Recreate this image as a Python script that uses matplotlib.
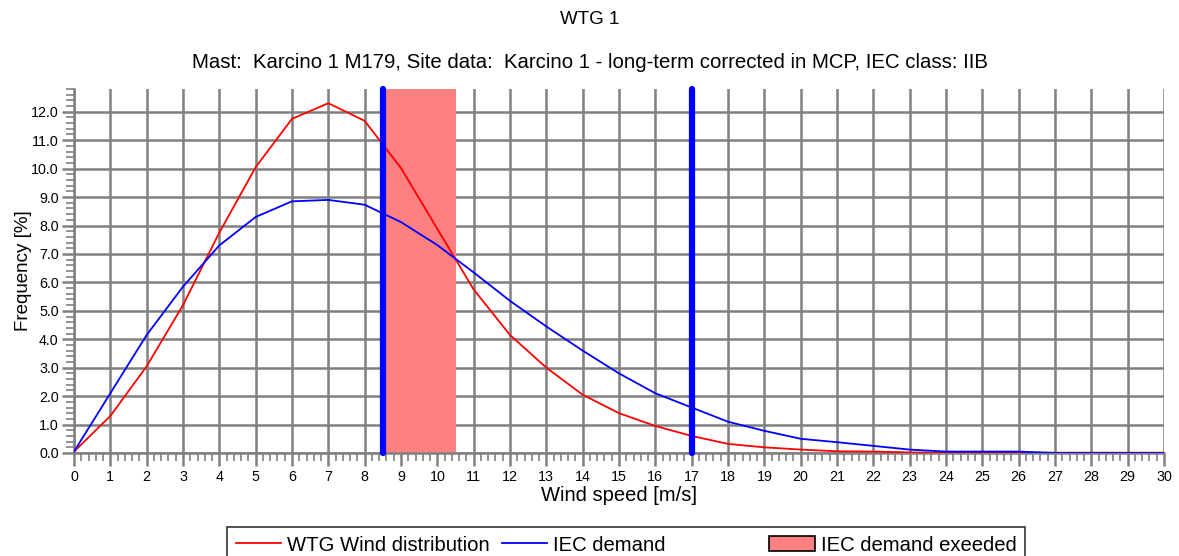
import matplotlib
matplotlib.use("Agg")
import matplotlib.pyplot as plt
from matplotlib.lines import Line2D
from matplotlib.patches import Patch
from matplotlib.ticker import MultipleLocator, FormatStrFormatter

plt.rcParams['font.family'] = ['Liberation Sans', 'DejaVu Sans']

wind_speed = list(range(0, 31))
wtg_dist = [0.05, 1.3, 3.05, 5.2, 7.75, 10.05, 11.75, 12.3, 11.68, 10.02,
            7.88, 5.75, 4.15, 3.0, 2.05, 1.4, 0.95, 0.6, 0.32, 0.2,
            0.12, 0.06, 0.05, 0.02, 0.01, 0.01, 0.01, 0.01, 0.01, 0.01, 0.01]
iec_demand = [0.05, 2.1, 4.15, 5.85, 7.3, 8.3, 8.85, 8.9, 8.73, 8.12,
              7.31, 6.35, 5.35, 4.45, 3.6, 2.8, 2.1, 1.6, 1.1, 0.78,
              0.5, 0.38, 0.25, 0.12, 0.05, 0.05, 0.05, 0.0, 0.0, 0.0, 0.0]
iec_lines = [8.5, 17]
exceeded_span = (8.5, 10.5)

title = "WTG 1"
subtitle = "Mast:  Karcino 1 M179, Site data:  Karcino 1 - long-term corrected in MCP, IEC class: IIB"

fig = plt.figure(figsize=(11.79, 5.56), dpi=100)
ax = fig.add_axes([74/1179, 103/556, 1090/1179, (453-89)/556])

grid_c = '#808080'
ax.set_xlim(0, 30)
ax.set_ylim(0, 12.8)
ax.xaxis.set_major_locator(MultipleLocator(1))
ax.xaxis.set_minor_locator(MultipleLocator(0.2))
ax.yaxis.set_major_locator(MultipleLocator(1))
ax.yaxis.set_minor_locator(MultipleLocator(0.2))
ax.yaxis.set_major_formatter(FormatStrFormatter('%.1f'))
ax.grid(True, which='major', color=grid_c, linewidth=1.8, zorder=0)
ax.set_axisbelow(True)
for s in ['top', 'right']:
    ax.spines[s].set_visible(False)
for s in ['left', 'bottom']:
    ax.spines[s].set_color(grid_c)
    ax.spines[s].set_linewidth(1.8)
ax.tick_params(which='major', length=9, width=1.8, color=grid_c, labelsize=10.3)
ax.tick_params(axis='x', which='major', pad=3)
ax.tick_params(axis='y', which='major', pad=2)
ax.tick_params(which='minor', length=6, width=1.2, color=grid_c)

ax.axvspan(exceeded_span[0], exceeded_span[1], color='#ff8080', lw=0, zorder=1)
ax.plot(wind_speed, wtg_dist, color='#ff0000', lw=1.3, zorder=3)
ax.plot(wind_speed, iec_demand, color='#0000ff', lw=1.3, zorder=3)
for xv in iec_lines:
    ax.plot([xv, xv], [0, 12.8], color='#0000ff', lw=4.5, solid_capstyle='round', zorder=4, clip_on=False)

ax.set_xlabel('Wind speed [m/s]', fontsize=14.5, labelpad=2)
ax.set_ylabel('Frequency [%]', fontsize=13.5, labelpad=-1)

fig.text(0.5, 1 - 20/556, title, ha='center', va='center', fontsize=13.5)
fig.text(0.5, 1 - 63/556, subtitle, ha='center', va='center', fontsize=14.65)

handles = [Line2D([], [], color='#ff0000', lw=1.3),
           Line2D([], [], color='#0000ff', lw=1.3),
           Line2D([], [], color='none'),
           Patch(facecolor='#ff8080', edgecolor='black', lw=1.2)]
labels = ['WTG Wind distribution', 'IEC demand', '     ', 'IEC demand exeeded']
leg = fig.legend(handles, labels, ncol=4, loc='upper left',
                 bbox_to_anchor=(227/1179, 1 - 527/556), fontsize=14.6,
                 frameon=True, fancybox=False, edgecolor='black',
                 columnspacing=0.6, handlelength=2.23, handletextpad=0.3,
                 borderpad=0.42, borderaxespad=0)
leg.get_frame().set_linewidth(1.2)

fig.savefig('out.png', dpi=100)
